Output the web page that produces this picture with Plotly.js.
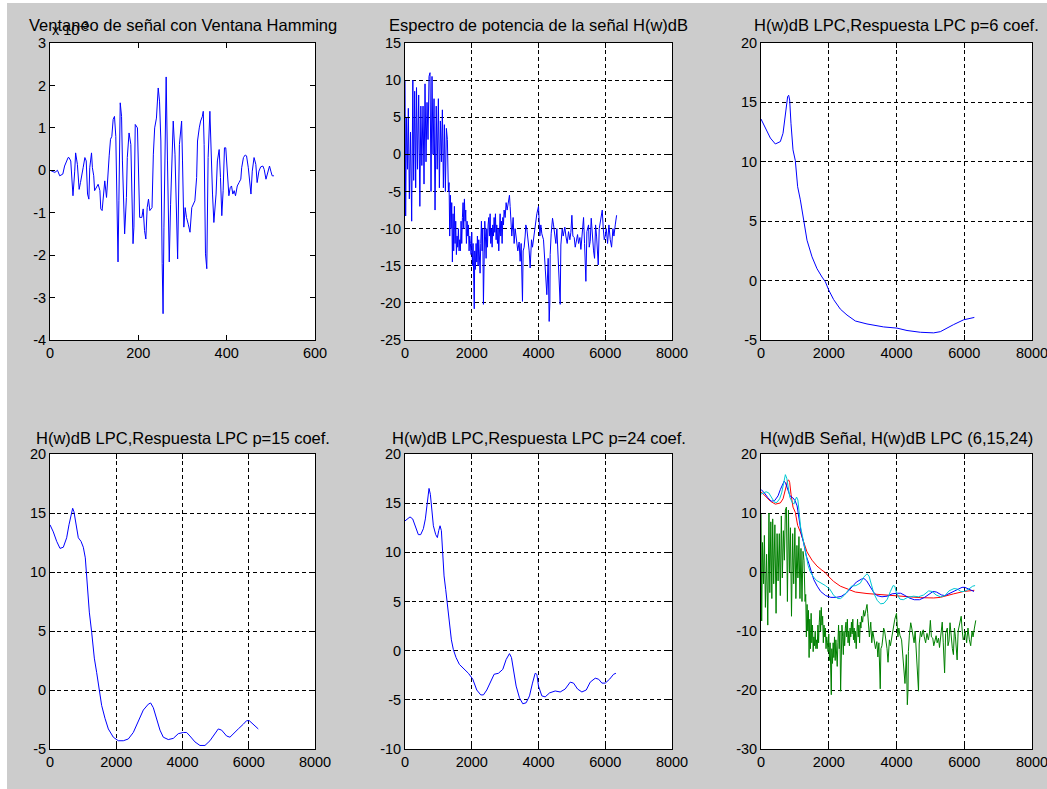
<!DOCTYPE html>
<html>
<head>
<meta charset="utf-8">
<script src="https://cdn.plot.ly/plotly-3.0.1.min.js"></script>
<style>html,body{margin:0;padding:0;background:#fff;}#chart{width:1047px;height:789px;}</style>
</head>
<body>
<div id="chart"></div>
<script>
// ---------- DATA ----------
// Windowed signal (Hamming), sample index and value in units of 1e-3
var sigN = [0,11,17,22,29,33,41,43,47,50,52,56,58,62,66,69,71,75,79,82,85,88,90,94,96,99,101,105,109,113,115,118,122,124,128,130,134,137,140,143,146,149,152,154,156,159,162,164,169,173,175,179,183,188,190,193,198,201,203,208,211,214,217,220,223,226,231,234,237,241,245,248,251,254,256,
258,263,266,270,273,277,279,283,287,289,293,296,298,300,303,306,309,313,317,321,325,328,332,334,338,341,345,347,349,352,355,358,362,365,368,371,376,379,383,386,389,392,395,398,402,405,408,411,414,417,420,424,428,432,434,438,442,445,449,453,455,458,462,466,469,473,477,482,485,489,493,497,500,503,507];
var sigV = [0,-0.05,0,-0.13,-0.09,0.1,0.3,0.3,0.22,-0.52,-0.6,-0.02,0.41,0.14,-0.45,-0.29,-0.13,0.06,0.3,0.22,-0.56,-0.68,0.06,0.41,0.06,-0.13,-0.48,-0.41,-0.33,-0.48,-0.91,-0.95,-0.33,-0.25,-0.64,-0.21,0.34,0.73,0.8,1.2,1.27,0.8,-1.03,-2.16,-0.72,1.59,1.27,0.22,-1.5,-0.64,0.3,0.88,0.61,-1.73,-1.34,1.08,1.0,-0.41,-1.11,-1.11,-0.91,-1.42,-1.62,-0.88,-0.68,-0.95,-0.88,0.38,1.0,1.23,1.94,1.63,0.69,-2.2,-3.38,
-1.34,2.2,0.22,-2.16,-0.8,0.61,1.16,0.38,-1.34,-2.09,0.61,1.04,1.16,0.22,-1.34,-0.88,-1.11,-1.27,-1.46,-0.88,-0.8,-0.72,-0.17,0.69,1.0,1.16,1.27,1.39,0.61,-1.97,-2.32,0.3,1.39,0.3,-0.56,-1.23,-0.56,0.22,0.49,-0.17,-1.07,-0.48,0.53,0.53,-0.02,-0.6,-0.41,-0.37,-0.56,-0.48,-0.6,-0.37,-0.29,-0.21,0.06,0.3,0.36,0.34,0.06,-0.41,-0.56,-0.02,0.3,0.14,-0.29,-0.02,0.08,0.1,0.02,-0.21,-0.02,0.1,-0.02,-0.13,-0.13];

// Power spectrum of the signal, H(w) dB
var specF = [0,20,45,75,100,130,165,200,235,260,290,320,345,375,410,445,475,505,540,570,600,630,660,690,720,750,780,810,840,870,900,935,965,1000,1030,1060,1090,1120,1150,1180,1210,1240,1270,1300,
1320,1340,1360,1380,1400,1420,1440,1460,1480,1500,1520,1540,1560,1580,1600,1620,1640,1660,1680,1700,1720,1740,1760,1780,1800,1820,1840,1860,1880,1900,1920,1940,1960,1980,
2000,2020,2040,2060,2075,2090,2110,2130,2150,2170,2190,2210,2230,2250,2270,2290,2310,2330,2350,2370,2390,2410,2430,2450,2470,2490,2510,2530,2550,2570,2590,2610,2630,2650,2670,2690,2710,2730,2750,2770,2790,2810,2830,2850,2870,2890,2910,2930,2950,2970,3000,3030,3060,3100,3130,3150,
3170,3200,3240,3270,3300,3350,3380,3420,3450,3480,3500,3520,3540,3570,3600,3620,3650,3680,3720,3750,3790,3820,3870,3910,3950,4000,4020,4040,4070,4100,4150,4180,4220,4250,4290,4320,4340,4350,4380,4420,4450,4480,4520,4550,4580,4610,4650,4670,4710,4740,4790,4820,4860,4900,4940,4970,5000,5030,5070,5100,5130,5170,5200,5240,5270,5320,5350,5380,5420,5450,5500,5520,5550,5580,5620,5650,5680,5710,5740,5790,5820,5850,5880,5910,5940,5970,6000,6030,6070,6110,6150,6190,6230,6260,6300,6340];
var specV = [10,-8.3,5,-2,6.2,-6,3,-9,10,-3.5,8.5,-4.5,9,-2,8,-7,6.5,-1.5,6.5,-4,9.5,-1,7,2,10.5,11,-5,10.5,0,7.5,-7.5,6.5,-2,7.5,-4.5,4.5,-1,6,-4.5,4,-5,3.5,2,-5,
-3.8,-11,-5.5,-10,-6.5,-14.5,-8,-13,-7,-12,-9,-13.5,-11,-12.5,-10,-13,-11.5,-13,-9,-12,-8.5,-6.5,-10,-6,-9,-7.5,-12,-9,-11,-9.5,-13,-11,-12,-13.5,
-10.5,-15,-12,-16.5,-20.8,-13,-15.5,-12,-14.5,-11,-15,-11.5,-13,-16,-12,-9,-13,-10,-20.2,-12,-9,-11,-14,-10,-12.5,-9.5,-8.5,-11,-8,-12,-10,-12.5,-9.5,-11,-8.5,-10.5,-8,-11.5,-9.5,-12,-10,-13,-9.5,-8,-11,-9,-12,-8.5,-9.5,-7.5,-8.5,-6.5,-7.5,-6,-5.5,-7,
-9.5,-11,-8.5,-12,-10,-12.2,-13,-11.8,-14.4,-12,-15,-19.8,-13,-12.5,-11,-9.5,-10,-11,-13,-15.3,-11.5,-12.5,-10.7,-9.5,-8,-7,-10,-11,-9.5,-10.7,-11.5,-13.5,-17.1,-18.9,-14,-22.5,-20,-13.5,-10.7,-8.6,-9.5,-10.4,-12,-10,-12.7,-16,-20.2,-12.2,-10,-11,-9.8,-11,-12,-10.4,-11.5,-10.5,-8.2,-11,-11.2,-12.5,-11.7,-10.8,-12,-11.2,-12.8,-10.2,-8.5,-12,-17.1,-10.4,-9.5,-12.5,-11.7,-8.6,-11.7,-13,-14,-9.5,-11,-14.9,-10,-9,-8,-7.5,-10,-11.5,-11,-10,-12,-9.5,-11.5,-12.5,-10,-11,-9.5,-8.2];

// LPC responses, H(w) dB
var p6F = [0,128,276,423,571,650,718,787,817,846,886,945,1013,1082,1161,1240,1358,1506,1653,1801,1900,2000,2145,2342,2539,2785,3129,3621,4015,4310,4704,5097,5294,5688,5983,6298];
var p6V = [13.6,12.9,12.0,11.5,11.7,12.4,14.1,15.5,15.6,15.2,13.2,11.0,10.1,7.9,6.8,5.4,3.4,2.0,1.0,0.3,-0.1,-0.8,-1.6,-2.4,-2.9,-3.4,-3.65,-3.9,-4.0,-4.2,-4.35,-4.4,-4.3,-3.7,-3.3,-3.1];

var p15F = [0,100,201,302,402,503,573,624,684,724,785,855,936,1006,1066,1127,1187,1258,1338,1408,1489,1559,1660,1761,1911,2062,2213,2364,2515,2666,2817,2968,3038,3119,3219,3320,3420,3571,3722,3873,4024,4125,4225,4376,4527,4678,4829,4980,5080,5181,5332,5432,5533,5684,5835,5935,6016,6137,6288];
var p15V = [14.0,13.4,12.6,12.0,12.1,12.9,14.0,14.8,15.4,15.1,14.0,12.9,12.6,12.1,11.2,8.9,6.6,4.9,2.7,1.5,-0.2,-1.3,-2.4,-3.3,-4.0,-4.3,-4.3,-4.15,-3.6,-2.7,-1.7,-1.2,-1.1,-1.5,-2.5,-3.4,-4.0,-4.2,-4.1,-3.7,-3.6,-3.6,-3.9,-4.4,-4.7,-4.7,-4.3,-3.7,-3.3,-3.4,-3.9,-4.0,-3.7,-3.3,-2.9,-2.6,-2.6,-2.9,-3.3];

var p24F = [0,70,150,230,300,400,470,550,610,670,720,760,800,850,920,970,1010,1050,1090,1120,1170,1220,1270,1330,1390,1450,1530,1630,1750,1900,2030,2150,2270,2350,2450,2550,2670,2800,2930,3030,3130,3190,3250,3330,3430,3530,3630,3730,3820,3900,3950,4000,4100,4200,4330,4500,4650,4800,4950,5050,5170,5300,5430,5550,5700,5800,5900,6000,6130,6250,6320];
var p24V = [13.2,13.4,13.6,13.4,12.7,11.8,11.8,12.4,13.4,15.4,16.5,15.9,14.1,12.7,11.8,11.5,12.2,12.7,12.2,10.3,7.6,6.2,4.5,2.5,1.1,0.1,-0.7,-1.4,-1.8,-2.3,-2.9,-4.0,-4.5,-4.5,-4.0,-3.2,-2.4,-2.3,-1.9,-0.9,-0.3,-0.7,-1.9,-3.6,-4.8,-5.4,-5.3,-4.6,-3.3,-2.3,-2.4,-3.6,-4.6,-4.7,-4.3,-4.1,-4.2,-3.9,-3.2,-3.3,-3.9,-4.2,-4.0,-3.2,-2.8,-2.9,-3.3,-3.3,-2.9,-2.4,-2.3];

// Tick values / labels
var ticksX1 = [0,200,400,600];
var ticksY1 = [-4,-3,-2,-1,0,1,2,3];
var ticksXf = [0,2000,4000,6000,8000];
var ticksY2 = [-25,-20,-15,-10,-5,0,5,10,15];
var ticksY3 = [-5,0,5,10,15,20];
var ticksY5 = [-10,-5,0,5,10,15,20];
var ticksY6 = [-30,-20,-10,0,10,20];

var titles = [
  "Ventaneo de señal con Ventana Hamming",
  "Espectro de potencia de la señal H(w)dB",
  "H(w)dB LPC,Respuesta LPC p=6 coef.",
  "H(w)dB LPC,Respuesta LPC p=15 coef.",
  "H(w)dB LPC,Respuesta LPC p=24 coef.",
  "H(w)dB Señal, H(w)dB LPC (6,15,24)"
];

// ---------- LAYOUT ----------
var W = 1047, H = 789;
var FONT = "Liberation Sans, Arial, Helvetica, sans-serif";
function xd(a, b) { return [a / W, b / W]; }
function yd(top, bot) { return [1 - bot / H, 1 - top / H]; }
var cols = [[50, 315], [405, 672], [761, 1032]];
var rows = [[43, 340], [454, 749]];

function axis(dom, range, ticks, grid, anchor) {
  return {
    domain: dom, range: range, anchor: anchor,
    tickmode: 'array', tickvals: ticks, ticktext: ticks.map(function (v) { return String(v); }),
    ticks: 'inside', ticklen: 5, tickwidth: 1, tickcolor: '#000',
    showline: true, linecolor: '#000', linewidth: 1, mirror: 'ticks',
    showgrid: grid, gridcolor: '#000', gridwidth: 1, griddash: '4px,3px',
    zeroline: false, fixedrange: true, ticklabeloverflow: 'allow',
    tickfont: { family: FONT, size: 14.5, color: '#000' }
  };
}

var layout = {
  width: W, height: H,
  margin: { l: 0, r: 0, t: 0, b: 0 },
  paper_bgcolor: '#cccccc', plot_bgcolor: '#ffffff',
  showlegend: false,
  xaxis:  axis(xd(cols[0][0], cols[0][1]), [0, 600], ticksX1, false, 'y'),
  yaxis:  axis(yd(rows[0][0], rows[0][1]), [-4, 3], ticksY1, false, 'x'),
  xaxis2: axis(xd(cols[1][0], cols[1][1]), [0, 8000], ticksXf, true, 'y2'),
  yaxis2: axis(yd(rows[0][0], rows[0][1]), [-25, 15], ticksY2, true, 'x2'),
  xaxis3: axis(xd(cols[2][0], cols[2][1]), [0, 8000], ticksXf, true, 'y3'),
  yaxis3: axis(yd(rows[0][0], rows[0][1]), [-5, 20], ticksY3, true, 'x3'),
  xaxis4: axis(xd(cols[0][0], cols[0][1]), [0, 8000], ticksXf, true, 'y4'),
  yaxis4: axis(yd(rows[1][0], rows[1][1]), [-5, 20], ticksY3, true, 'x4'),
  xaxis5: axis(xd(cols[1][0], cols[1][1]), [0, 8000], ticksXf, true, 'y5'),
  yaxis5: axis(yd(rows[1][0], rows[1][1]), [-10, 20], ticksY5, true, 'x5'),
  xaxis6: axis(xd(cols[2][0], cols[2][1]), [0, 8000], ticksXf, true, 'y6'),
  yaxis6: axis(yd(rows[1][0], rows[1][1]), [-30, 20], ticksY6, true, 'x6'),
  shapes: [
    { type: 'rect', xref: 'paper', yref: 'paper', x0: 0, x1: 7 / W, y0: 0, y1: 1, fillcolor: '#ffffff', line: { width: 0 }, layer: 'below' },
    { type: 'rect', xref: 'paper', yref: 'paper', x0: 0, x1: 1, y0: 1 - 3 / H, y1: 1, fillcolor: '#ffffff', line: { width: 0 }, layer: 'below' }
  ],
  annotations: []
};

var titleY = [25, 438];
for (var i = 0; i < 6; i++) {
  var c = cols[i % 3], r = Math.floor(i / 3);
  layout.annotations.push({
    text: titles[i], xref: 'paper', yref: 'paper',
    x: (c[0] + c[1]) / 2 / W, y: 1 - titleY[r] / H,
    xanchor: 'center', yanchor: 'middle', showarrow: false,
    font: { family: FONT, size: 16.5, color: '#000' }
  });
}
layout.annotations.push({
  text: 'x 10<sup>-3</sup>', xref: 'paper', yref: 'paper',
  x: 50 / W, y: 1 - 29 / H, xanchor: 'left', yanchor: 'middle', showarrow: false,
  font: { family: FONT, size: 14.5, color: '#000' }
});

function line(x, y, color, xa, ya) {
  return { x: x, y: y, type: 'scatter', mode: 'lines', xaxis: xa, yaxis: ya,
           line: { color: color, width: 1 }, hoverinfo: 'skip' };
}

var data = [
  line(sigN, sigV, '#0000ff', 'x', 'y'),
  line(specF, specV, '#0000ff', 'x2', 'y2'),
  line(p6F, p6V, '#0000ff', 'x3', 'y3'),
  line(p15F, p15V, '#0000ff', 'x4', 'y4'),
  line(p24F, p24V, '#0000ff', 'x5', 'y5'),
  line(specF, specV, '#008000', 'x6', 'y6'),
  line(p6F, p6V, '#ff0000', 'x6', 'y6'),
  line(p15F, p15V, '#0000ff', 'x6', 'y6'),
  line(p24F, p24V, '#00c8d2', 'x6', 'y6')
];

Plotly.newPlot('chart', data, layout, { displayModeBar: false, staticPlot: true });
</script>
</body>
</html>
